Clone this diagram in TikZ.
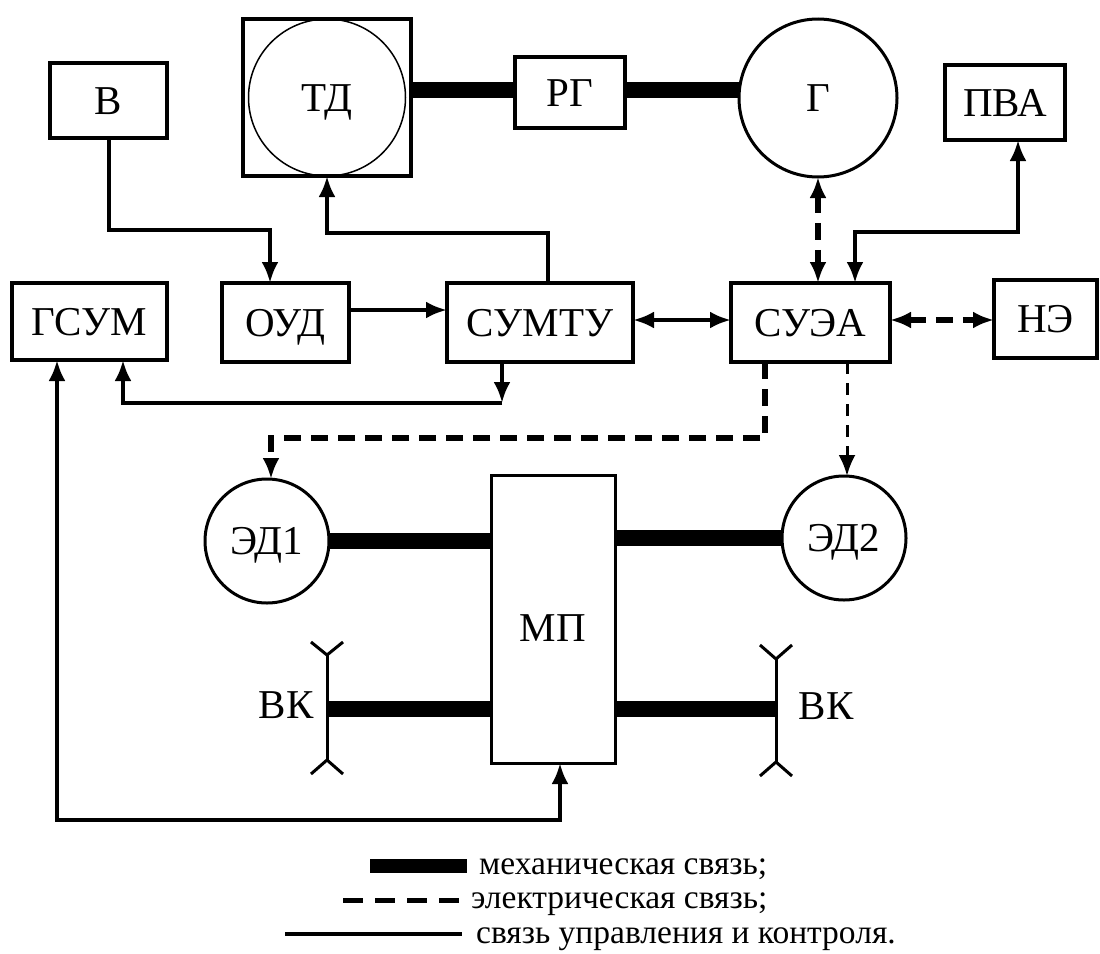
\documentclass[tikz,border=0pt]{standalone}
\usepackage{fontspec}
\setmainfont{Liberation Serif}
\usetikzlibrary{arrows.meta}
\newcommand{\lablfont}{\fontsize{41}{44}\selectfont}
\newcommand{\legfont}{\fontsize{33.5}{37}\selectfont}
\begin{document}
\begin{tikzpicture}[x=1pt,y=-1pt,
  box/.style={draw, line width=4pt, inner sep=0pt, outer sep=0pt, font=\lablfont, text height=27pt, text depth=0pt},
  circ/.style={draw, circle, line width=3pt, inner sep=0pt, outer sep=0pt, font=\lablfont, text height=27pt, text depth=0pt},
  lab/.style={inner sep=0pt, font=\lablfont, text height=27pt, text depth=0pt},
  ctrl/.style={line width=4pt},
  mech/.style={line width=16pt},
  elec/.style={line width=5.5pt, dash pattern=on 17pt off 10pt},
  electhin/.style={line width=3pt, dash pattern=on 12pt off 9pt},
  bkline/.style={line width=3pt},
  tip/.style={-{Latex[length=21pt,width=17pt]}},
  tips/.style={{Latex[length=21pt,width=17pt]}-{Latex[length=21pt,width=17pt]}},
  legtext/.style={anchor=base west, inner sep=0pt, font=\legfont}]
\useasboundingbox[fill=white] (0,0) rectangle (1100,953);

% nodes
\node[box, minimum width=117pt, minimum height=75pt] (V) at (108.5,100.5) {В};
\node[box, minimum width=168pt, minimum height=157pt] (TD) at (327,97.5) {};
\node[circ, line width=1.5pt, minimum size=157pt] (TDc) at (TD.center) {ТД};
\node[box, minimum width=110pt, minimum height=71pt] (RG) at (570,92.5) {РГ};
\node[circ, minimum size=158pt] (G) at (818,98) {Г};
\node[box, minimum width=120pt, minimum height=75pt] (PVA) at (1005,102.5) {ПВА};
\node[box, minimum width=155pt, minimum height=77pt] (GSUM) at (89.5,321.5) {ГСУМ};
\node[box, minimum width=127pt, minimum height=79pt] (OUD) at (285.5,322.5) {ОУД};
\node[box, minimum width=186pt, minimum height=79pt] (SUMTU) at (540,322.5) {СУМТУ};
\node[box, minimum width=159pt, minimum height=79pt] (SUEA) at (810.5,322.5) {СУЭА};
\node[box, minimum width=103pt, minimum height=78pt] (NE) at (1045.5,319) {НЭ};
\node[circ, minimum size=124pt] (ED1) at (267,541) {ЭД1};
\node[circ, minimum size=124pt] (ED2) at (844,538) {ЭД2};
\node[box, line width=3pt, minimum width=124pt, minimum height=288pt] (MP) at (553,619) {};
\node[lab] (MPl) at (553,628) {МП};
\node[lab] (BKLl) at (286,705) {ВК};
\node[lab] (BKRl) at (826,706) {ВК};

% helper coordinates
\coordinate (y90) at (0,90);
\coordinate (y310) at (0,310);
\coordinate (y320) at (0,320);
\coordinate (vb) at (270,230);
\coordinate (tb) at (548,233);
\coordinate (pb) at (1018,232);
\coordinate (pc) at (855,232);
\coordinate (sg) at (502,403);
\coordinate (gs) at (123,403);
\coordinate (bm) at (560,820);
\coordinate (bl) at (57,820);
\coordinate (e1) at (765,438);
\coordinate (e2) at (271,438);
\coordinate (e3) at (847,0);
\coordinate (BKL) at (327,709);
\coordinate (BKR) at (776,709);

% mechanical links
\draw[mech] (TD.east |- y90) -- (RG.west |- y90);
\draw[mech] (RG.east |- y90) -- (G.west |- y90);
\draw[mech] (ED1.east) -- (MP.west |- ED1.east);
\draw[mech] (MP.east |- ED2.west) -- (ED2.west);
\draw[mech] (BKL) -- (MP.west |- BKL);
\draw[mech] (MP.east |- BKR) -- (BKR);

% propellers (ВК)
\draw[bkline] (311,642) -- (327,655) -- (343,642);
\draw[bkline] (327,655) -- (327,760);
\draw[bkline] (311,774) -- (327,760) -- (343,774);
\draw[bkline] (760,645) -- (776,659) -- (792,645);
\draw[bkline] (776,659) -- (776,762);
\draw[bkline] (760,776) -- (776,762) -- (792,776);

% control links
\draw[ctrl, tip] (V.south) |- (vb) -- (OUD.north -| vb);
\draw[ctrl, tip] (OUD.east |- y310) -- (SUMTU.west |- y310);
\draw[ctrl, tip] (SUMTU.north -| tb) -- (tb) -| (TD.south);
\draw[ctrl, tips] (SUMTU.east |- y320) -- (SUEA.west |- y320);
\draw[ctrl, tips] (PVA.south -| pb) -- (pb) -- (pc) -- (SUEA.north -| pc);
\draw[ctrl, tip] (SUMTU.south -| sg) -- (sg);
\draw[ctrl, tip] (sg) -| (GSUM.south -| gs);
\draw[ctrl, tips] (MP.south -| bm) -- (bm) -| (GSUM.south -| bl);

% electrical links
\draw[elec, tips] (G.south) -- (SUEA.north -| G.south);
\draw[elec, tips] (SUEA.east |- y320) -- (NE.west |- y320);
\draw[elec, tip] (SUEA.south -| e1) -- (e1) -- (e2) -- (ED1.north -| e2);
\draw[electhin, tip] (SUEA.south -| e3) -- (ED2.north -| e3);

% legend
\coordinate (L1a) at (370,866); \coordinate (L1b) at (467,866);
\coordinate (L2a) at (343,900); \coordinate (L2b) at (460,900);
\coordinate (L3a) at (285,934); \coordinate (L3b) at (462,934);
\draw[line width=14pt] (L1a) -- (L1b);
\draw[line width=5pt, dash pattern=on 20pt off 12pt] (L2a) -- (L2b);
\draw[line width=3.5pt] (L3a) -- (L3b);
\node[legtext] (T1) at (479,874) {механическая связь;};
\node[legtext] (T2) at (471,908) {электрическая связь;};
\node[legtext] (T3) at (476,943) {связь управления и контроля.};
\end{tikzpicture}
\end{document}
